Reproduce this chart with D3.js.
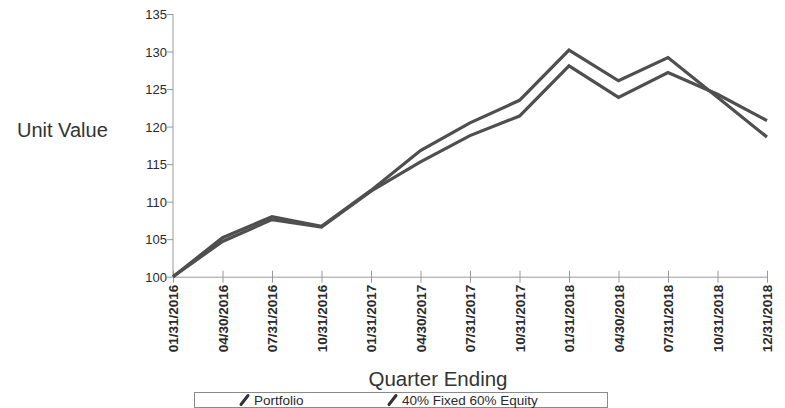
<!DOCTYPE html>
<html>
<head>
<meta charset="utf-8">
<script src="https://cdn.jsdelivr.net/npm/d3@7"></script>
<style>
  html, body { margin: 0; padding: 0; background: #fff; }
  svg { display: block; font-family: Arial, "Liberation Sans", sans-serif; }
</style>
</head>
<body>
<svg id="chart" width="785" height="408"></svg>
<script>
// Quarter-end dates along the x axis
const quarters = ["01/31/2016", "04/30/2016", "07/31/2016", "10/31/2016",
  "01/31/2017", "04/30/2017", "07/31/2017", "10/31/2017",
  "01/31/2018", "04/30/2018", "07/31/2018", "10/31/2018", "12/31/2018"];

// Unit values, both series starting at 100
const portfolio = [100, 105.2, 108.0, 106.7, 111.5, 116.8, 120.5, 123.5, 130.2, 126.1, 129.2, 123.9, 118.6];
const blend4060 = [100, 104.7, 107.6, 106.6, 111.4, 115.3, 118.8, 121.4, 128.1, 123.9, 127.2, 124.3, 120.8];

const yTicks = [100, 105, 110, 115, 120, 125, 130, 135];
const seriesNames = ["Portfolio", "40% Fixed 60% Equity"];

const svg = d3.select("#chart");
const lineColor = "#4f4f4f";
const axisColor = "#9a9a9a";
const textColor = "#2a2a2a";

const x = d3.scalePoint().domain(quarters).range([173, 767]);
const y = d3.scaleLinear().domain([100, 135]).range([276.7, 14]);

// Y axis: vertical rule with short ticks on the left
const yAxis = svg.append("g").attr("transform", "translate(173,0)")
  .call(d3.axisLeft(y).tickValues(yTicks).tickSize(6).tickPadding(0));
yAxis.select(".domain").attr("stroke", axisColor).attr("d", `M0,${y(135)}V${y(100)}`);
yAxis.selectAll(".tick line").attr("stroke", axisColor);
yAxis.selectAll(".tick text").attr("font-size", 13).attr("fill", textColor)
  .attr("font-family", "Arial, 'Liberation Sans', sans-serif").attr("dy", "0.36em");

// X axis: horizontal rule with ticks crossing it
const xAxis = svg.append("g").attr("transform", `translate(0,${y(100)})`)
  .call(d3.axisBottom(x).tickSize(6).tickSizeOuter(0));
xAxis.select(".domain").attr("stroke", axisColor);
xAxis.selectAll(".tick line").attr("stroke", axisColor).attr("y1", -6).attr("y2", 6);
xAxis.selectAll(".tick text")
  .attr("font-size", 13.5).attr("font-weight", "bold").attr("fill", textColor)
  .attr("font-family", "Arial, 'Liberation Sans', sans-serif")
  .attr("text-anchor", "end")
  .attr("transform", "rotate(-90)")
  .attr("x", -8).attr("y", 0).attr("dy", "0.36em");

// Series lines
const line = d3.line().x((d, i) => x(quarters[i])).y(d => y(d));
[portfolio, blend4060].forEach(vals => {
  svg.append("path").datum(vals)
    .attr("d", line)
    .attr("fill", "none")
    .attr("stroke", lineColor)
    .attr("stroke-width", 3.2)
    .attr("stroke-linejoin", "miter")
    .attr("stroke-linecap", "butt");
});

// Axis titles
svg.append("text").attr("x", 17).attr("y", 136.5)
  .attr("font-size", 20).attr("fill", "#333").text("Unit Value");
svg.append("text").attr("x", 438).attr("y", 386)
  .attr("text-anchor", "middle").attr("font-size", 20.5).attr("fill", "#333")
  .text("Quarter Ending");

// Legend box with a pencil-style marker for each series
const legend = svg.append("g");
legend.append("rect").attr("x", 194.5).attr("y", 392.5).attr("width", 413).attr("height", 15)
  .attr("fill", "#fff").attr("stroke", "#8a8a8a").attr("stroke-width", 1);
const legendX = [241, 389];
seriesNames.forEach((name, i) => {
  const lx = legendX[i];
  legend.append("line")
    .attr("x1", lx).attr("y1", 404.5).attr("x2", lx + 7).attr("y2", 395.5)
    .attr("stroke", "#333").attr("stroke-width", 3).attr("stroke-linecap", "round");
  legend.append("text").attr("x", lx + 13).attr("y", 404.5)
    .attr("font-size", 13.5).attr("fill", textColor).text(name);
});
</script>
</body>
</html>
